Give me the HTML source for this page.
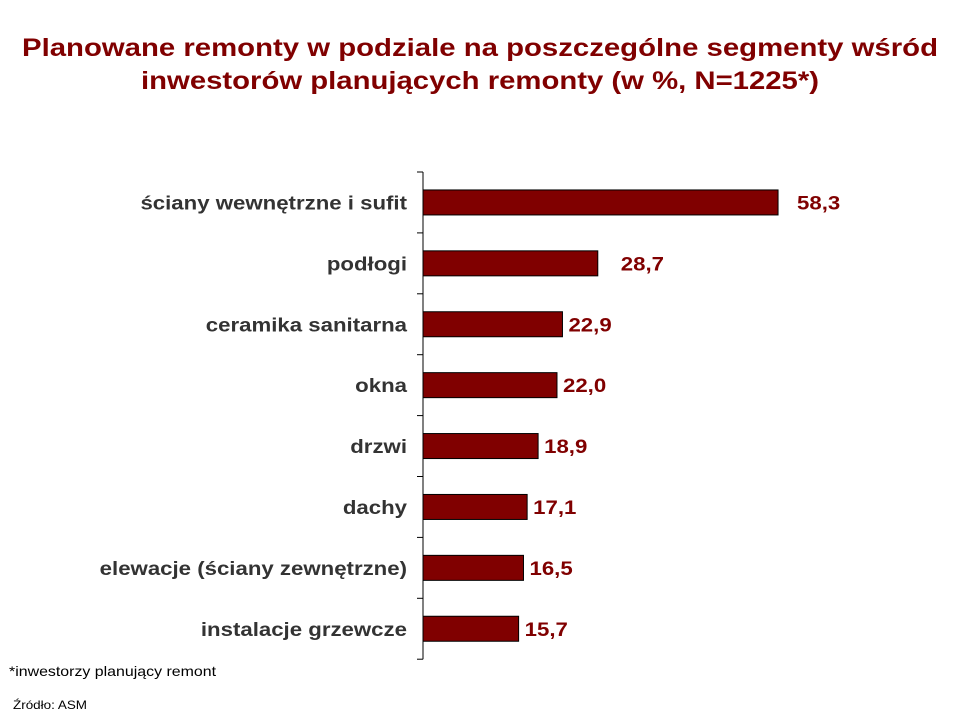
<!DOCTYPE html>
<html><head><meta charset="utf-8"><style>
body{margin:0;background:#fff;}
svg{display:block;font-family:"Liberation Sans",Arial,sans-serif;}
</style></head><body>
<svg width="960" height="720" viewBox="0 0 960 720">
<text x="480" y="56" text-anchor="middle" font-size="25" font-weight="bold" fill="#800000" textLength="916" lengthAdjust="spacingAndGlyphs">Planowane remonty w podziale na poszczególne segmenty wśród</text>
<text x="480" y="89" text-anchor="middle" font-size="25" font-weight="bold" fill="#800000" textLength="678" lengthAdjust="spacingAndGlyphs">inwestorów planujących remonty (w %, N=1225*)</text>
<g id="plot"></g>
<text x="9" y="676" font-size="14" fill="#000" textLength="207" lengthAdjust="spacingAndGlyphs">*inwestorzy planujący remont</text>
<text x="13" y="709" font-size="12" fill="#000" textLength="74" lengthAdjust="spacingAndGlyphs">Źródło: ASM</text>
</svg>
<script>
const categories = ["ściany wewnętrzne i sufit","podłogi","ceramika sanitarna","okna","drzwi","dachy","elewacje (ściany zewnętrzne)","instalacje grzewcze"];
const values = [58.3,28.7,22.9,22.0,18.9,17.1,16.5,15.7];
const valueLabels = ["58,3","28,7","22,9","22,0","18,9","17,1","16,5","15,7"];

const NS="http://www.w3.org/2000/svg";
const g=document.getElementById('plot');
const x0=423, yTop=172, bandH=60.9, pxPerUnit=6.09, stretch=1.17;
const xScale=v=>x0+v*pxPerUnit;
const yBand=i=>yTop+i*bandH;
function mk(tag,attrs){const e=document.createElementNS(NS,tag);for(const k in attrs)e.setAttribute(k,attrs[k]);g.appendChild(e);return e;}
const axis=mk('line',{x1:x0,y1:yTop,x2:x0,y2:yBand(categories.length),stroke:'#000','stroke-width':1});


for(let i=0;i<=categories.length;i++){
  const t=mk('line',{x1:x0-6,y1:yBand(i),x2:x0,y2:yBand(i),stroke:'#000','stroke-width':1});
  
  
}
categories.forEach((c,i)=>{
  const cy=yBand(i)+bandH/2;
  const b=mk('rect',{x:x0,y:cy-12.5,width:xScale(values[i])-x0,height:25,fill:'#800000',stroke:'#000','stroke-width':1});
  
  
  const l=mk('text',{x:0,y:0,'text-anchor':'end','font-size':19,'font-weight':'bold',fill:'#333',transform:`translate(407,${cy+7}) scale(${stretch},1)`});
  l.textContent=c;
  
  
  const vx=xScale(values[i])+(i===0?19:i===1?23:6);
  const v=mk('text',{x:0,y:0,'font-size':19,'font-weight':'bold',fill:'#800000',transform:`translate(${vx},${cy+7}) scale(${stretch},1)`});
  v.textContent=valueLabels[i];
  
  
});
</script>
</body></html>
